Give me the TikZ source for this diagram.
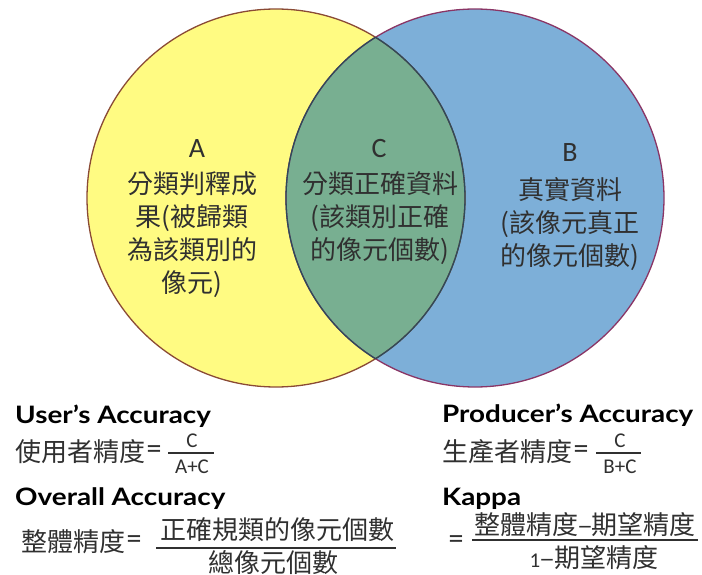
\documentclass[tikz,border=0pt]{standalone}
\usepackage{fontspec}
\setmainfont{Carlito}
\newfontfamily\cjk{Noto Sans CJK TC}
\newfontfamily\lat{Carlito}
\newfontfamily\hdfont[FakeStretch=1.16]{Lato}
\definecolor{venyellow}{HTML}{FFFB82}
\definecolor{venblue}{HTML}{7DAFD8}
\definecolor{vengreen}{HTML}{78AF91}
\definecolor{edgeA}{HTML}{8A4A35}
\definecolor{edgeB}{HTML}{8A3565}
\definecolor{edgeC}{HTML}{2E4A5A}
\definecolor{txt}{HTML}{303030}
\begin{document}
\begin{tikzpicture}[x=1pt,y=-1pt,
  letter/.style={font=\lat\fontsize{28}{30}\selectfont, text=txt, inner sep=0},
  circtext/.style={align=center, font=\cjk\fontsize{26}{33}\selectfont, text=txt, inner sep=0},
  heading/.style={font=\hdfont\bfseries\fontsize{24}{26}\selectfont, anchor=base west, inner sep=0},
  cjkline/.style={font=\cjk\fontsize{26}{30}\selectfont, text=txt, inner sep=0},
  fracl/.style={font=\lat\fontsize{21}{22}\selectfont, text=txt, inner sep=0},
  eqsign/.style={font=\lat\fontsize{30}{30}\selectfont, text=txt, inner sep=0},
  fracbar/.style={line width=1.1pt, draw=txt}
]
\useasboundingbox (0,0) rectangle (702,575);
% circles
\fill[venyellow] (276,198) circle (189);
\fill[venblue] (475,198) circle (189);
\begin{scope}
  \clip (276,198) circle (189);
  \fill[vengreen] (475,198) circle (189);
\end{scope}
\draw[edgeA, line width=1.3pt] (276,198) circle (189);
\draw[edgeB, line width=1.3pt] (475,198) circle (189);
\begin{scope}
  \clip (276,198) circle (189);
  \draw[edgeC, line width=1.3pt] (475,198) circle (189);
\end{scope}
\begin{scope}
  \clip (475,198) circle (189);
  \draw[edgeC, line width=1.3pt] (276,198) circle (189);
\end{scope}
% circle labels
\node[letter] (la) at (197,149) {A};
\node[circtext] (ta) at (192,235) {分類判釋成\\果(被歸類\\為該類別的\\像元)};
\node[letter] (lc) at (379,149) {C};
\node[circtext] (tc) at (380,218) {分類正確資料\\(該類別正確\\的像元個數)};
\node[letter] (lb) at (570,153) {B};
\node[circtext] (tb) at (570,224) {真實資料\\(該像元真正\\的像元個數)};
% User's accuracy
\node[heading] (hu) at (15,423) {User’s Accuracy};
\node[cjkline, anchor=west] (cu) at (15,452) {使用者精度};
\node[eqsign, anchor=west] (eu) at ([xshift=1pt]cu.east) {=};
\coordinate (bu1) at (168,453);
\coordinate (bu2) at (214,453);
\draw[fracbar] (bu1) -- (bu2);
\node[fracl] (nu) at (192,441) {C};
\node[fracl] (du) at (192,467) {A+C};
% Producer's accuracy
\node[heading] (hp) at (442,422) {Producer’s Accuracy};
\node[cjkline, anchor=west] (cp) at (442,452) {生產者精度};
\node[eqsign, anchor=west] (ep) at ([xshift=1pt]cp.east) {=};
\coordinate (bp1) at (596,453);
\coordinate (bp2) at (641,453);
\draw[fracbar] (bp1) -- (bp2);
\node[fracl] (np) at (620,441) {C};
\node[fracl] (dp) at (620,467) {B+C};
% Overall accuracy
\node[heading] (ho) at (15,505) {Overall Accuracy};
\node[cjkline, anchor=west] (co) at (21,542) {整體精度};
\node[eqsign, anchor=west] (eo) at ([xshift=1pt]co.east) {=};
\coordinate (bo1) at (156,548);
\coordinate (bo2) at (396,548);
\draw[fracbar] (bo1) -- (bo2);
\node[cjkline] (no) at (277,530) {正確規類的像元個數};
\node[cjkline] (do) at (273,563) {總像元個數};
% Kappa
\node[heading] (hk) at (442,505) {Kappa};
\node[eqsign] (ek) at (456,542) {=};
\coordinate (bk1) at (472,540);
\coordinate (bk2) at (698,540);
\draw[fracbar] (bk1) -- (bk2);
\node[cjkline] (nk) at (585,525) {整體精度–期望精度};
\node[cjkline] (dk) at (594,558) {{\lat\fontsize{21}{22}\selectfont 1}–期望精度};
\end{tikzpicture}
\end{document}
